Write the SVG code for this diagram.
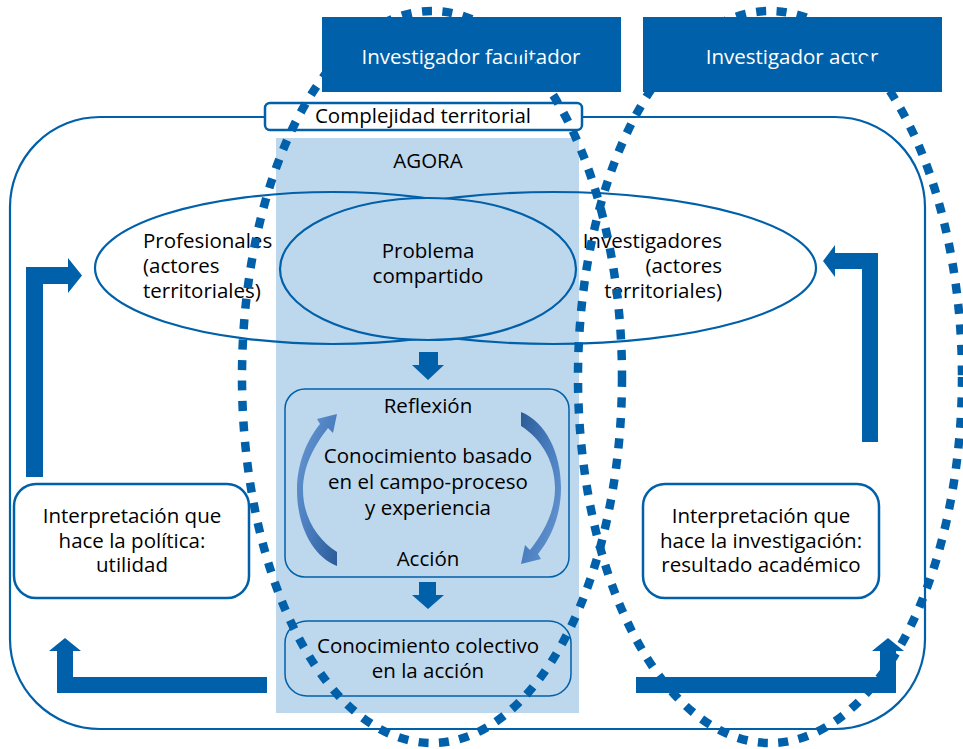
<svg xmlns="http://www.w3.org/2000/svg" width="963" height="749" viewBox="0 0 963 749">
<defs>
<style>
text{font-family:"Open Sans","Noto Sans","DejaVu Sans",sans-serif;font-size:20.5px;fill:#000}
.c{text-anchor:middle}
.e{text-anchor:end}
.w{fill:#fff}
.ln{fill:none;stroke:#0060A9;stroke-width:2.2}
.thin{fill:none;stroke:#0060A9;stroke-width:1.5}
.box{fill:#fff;stroke:#0060A9;stroke-width:2.5}
.hdr{fill:#0060A9}
.arr{fill:#0060A9}
.dot{fill:none;stroke:#0060A9;stroke-width:8.5;stroke-dasharray:10 10.5}
</style>
<linearGradient id="cg" x1="0" y1="0" x2="1" y2="1">
<stop offset="0" stop-color="#6C9AD2"/>
<stop offset="0.5" stop-color="#4A7EC0"/>
<stop offset="1" stop-color="#2B5C98"/>
</linearGradient>
</defs>
<rect width="963" height="749" fill="#fff"/>

<g id="frame">
<rect x="10" y="117" width="915" height="612" rx="90" ry="90" class="ln"/>
</g>

<g id="agora">
<rect x="276" y="138" width="303" height="575" fill="#BDD7EC"/>
<text x="428" y="168" class="c">AGORA</text>
</g>

<g id="top-facilitador">
<rect x="322" y="17" width="299" height="75" class="hdr"/>
<text x="471" y="64" class="c w">Investigador facilitador</text>
</g>
<g id="top-actor">
<rect x="643" y="17" width="299" height="75" class="hdr"/>
<text x="792" y="64" class="c w">Investigador actor</text>
</g>

<g id="complejidad">
<rect x="265" y="103" width="317" height="27" rx="5" class="box"/>
<text x="423" y="123" class="c">Complejidad territorial</text>
</g>

<g id="profesionales">
<ellipse cx="332.5" cy="268" rx="237.5" ry="76" class="ln"/>
<text x="143" y="248">Profesionales</text>
<text x="143" y="273">(actores</text>
<text x="143" y="298">territoriales)</text>
</g>
<g id="investigadores">
<ellipse cx="553" cy="268" rx="263" ry="76" class="ln"/>
<text x="722" y="248" class="e">Investigadores</text>
<text x="722" y="273" class="e">(actores</text>
<text x="722" y="298" class="e">territoriales)</text>
</g>
<g id="problema">
<ellipse cx="428" cy="269" rx="148" ry="71" fill="#BDD7EC" stroke="#0060A9" stroke-width="2.2"/>
<text x="428" y="258" class="c">Problema</text>
<text x="428" y="283" class="c">compartido</text>
</g>

<g id="reflexion">
<rect x="285" y="389" width="284" height="188" rx="20" class="thin"/>
<text x="428" y="413" class="c">Reflexión</text>
<text x="428" y="463" class="c">Conocimiento basado</text>
<text x="428" y="489" class="c">en el campo-proceso</text>
<text x="428" y="515" class="c">y experiencia</text>
<text x="428" y="566" class="c">Acción</text>
</g>

<g id="colectivo">
<rect x="285" y="621" width="286" height="75" rx="22" class="thin"/>
<text x="428" y="653" class="c">Conocimiento colectivo</text>
<text x="428" y="678" class="c">en la acción</text>
</g>

<g id="politica">
<rect x="14" y="484" width="235" height="114" rx="22" class="box"/>
<text x="132" y="523" class="c">Interpretación que</text>
<text x="132" y="548" class="c">hace la política:</text>
<text x="132" y="572" class="c">utilidad</text>
</g>
<g id="investigacion">
<rect x="643" y="484" width="236" height="114" rx="22" class="box"/>
<text x="761" y="523" class="c">Interpretación que</text>
<text x="761" y="548" class="c">hace la investigación:</text>
<text x="761" y="572" class="c">resultado académico</text>
</g>

<g id="connectors">
<path class="arr" d="M419,352 H438 V365 H444 L428,380 L412,365 H419 Z"/>
<path class="arr" d="M419,582 H436 V595 H444 L428,609 L412,595 H419 Z"/>
<path class="arr" d="M26,477 V267 H68 V258 L82,275.5 L68,293 V284 H43 V477 Z"/>
<path class="arr" d="M878,442 V253 H835 V245 L823,261 L835,277 V269 H862 V442 Z"/>
<path class="arr" d="M267,677 H73 V651 H81 L65,638 L49,651 H57 V693 H267 Z"/>
<path class="arr" d="M636,677 H880 V651 H872 L888,638 L904,651 H896 V693 H636 Z"/>
<path fill="url(#cg)" d="M337,566 C312,556 297,525 297,490 C297,463 307,440 320,424 L317,419 L337,414 L333,433 L328,428 C314,446 303,466 303,490 C303,518 318,540 337,552 Z"/>
<path fill="url(#cg)" transform="rotate(180 429 489)" d="M337,566 C312,556 297,525 297,490 C297,463 307,440 320,424 L317,419 L337,414 L333,433 L328,428 C314,446 303,466 303,490 C303,518 318,540 337,552 Z"/>
</g>

<g id="dotted-facilitador">
<ellipse cx="432" cy="377" rx="190" ry="366" class="dot"/>
</g>
<g id="dotted-actor">
<ellipse cx="770" cy="377" rx="192" ry="366" class="dot"/>
</g>
</svg>
